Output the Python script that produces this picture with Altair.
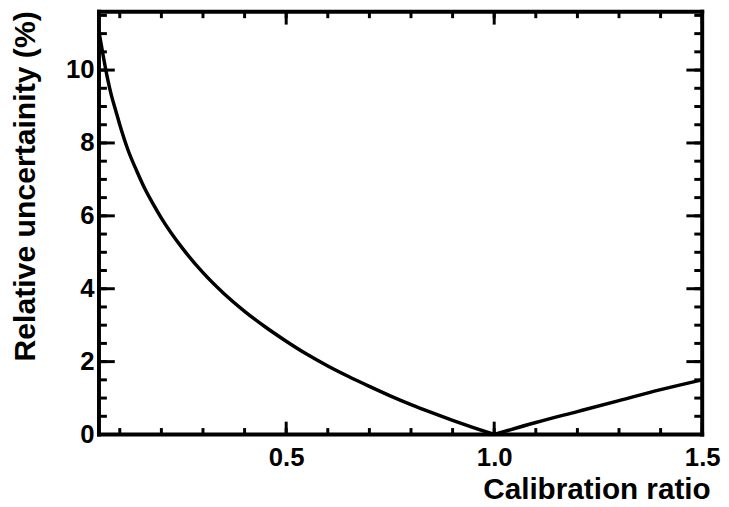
import altair as alt
import pandas as pd

# Curve values
left_x = [0.05, 0.06, 0.07, 0.08, 0.09, 0.10, 0.12, 0.14, 0.16, 0.18, 0.20, 0.25, 0.30,
          0.35, 0.40, 0.45, 0.50, 0.55, 0.60, 0.65, 0.70, 0.75, 0.80, 0.85, 0.90, 0.95, 1.0]
left_y = [11.05, 10.4, 9.8, 9.3, 8.9, 8.5, 7.8, 7.25, 6.75, 6.33, 5.94, 5.12, 4.44,
          3.87, 3.38, 2.95, 2.56, 2.2, 1.88, 1.59, 1.32, 1.06, 0.82, 0.60, 0.39, 0.19, 0.0]
right_x = [1.0, 1.1, 1.2, 1.3, 1.4, 1.5]
right_y = [0.0, 0.33, 0.63, 0.93, 1.23, 1.5]

# Axis ticks
x_major = [0.5, 1.0, 1.5]
x_minor = [0.1, 0.2, 0.3, 0.4, 0.5, 0.6, 0.7, 0.8, 0.9, 1.0, 1.1, 1.2, 1.3, 1.4, 1.5]
y_major = [0, 2, 4, 6, 8, 10]
y_minor = [0, 0.5, 1, 1.5, 2, 2.5, 3, 3.5, 4, 4.5, 5, 5.5, 6, 6.5, 7, 7.5, 8, 8.5,
           9, 9.5, 10, 10.5, 11, 11.5]

W, H = 610, 427.5
FONT = "Liberation Sans"

curve = pd.DataFrame({
    "x": left_x + right_x,
    "y": left_y + right_y,
    "seg": ["a"] * len(left_x) + ["b"] * len(right_x),
})

xs = alt.Scale(domain=[0.05, 1.5], nice=False, zero=False)
ys = alt.Scale(domain=[0, 11.6], nice=False, zero=False)

x_axis = alt.Axis(
    values=x_major, format=".1f", ticks=False, domain=False, grid=False,
    labelFont=FONT, labelFontSize=26, labelFontWeight="bold", labelColor="black",
    labelPadding=10, labelFlush=False, title="Calibration ratio", titleFont=FONT,
    titleFontSize=30, titleFontWeight="bold", titleColor="black", titleAlign="right",
    titleBaseline="alphabetic", titleX=W + 8, titleY=64.5)
y_axis = alt.Axis(
    values=y_major, format="d", ticks=False, domain=False, grid=False,
    labelFont=FONT, labelFontSize=26, labelFontWeight="bold", labelColor="black",
    labelPadding=5, labelFlush=False, title="Relative uncertainity (%)", titleFont=FONT,
    titleFontSize=30.5, titleFontWeight="bold", titleColor="black", titleAngle=-90,
    titleAlign="right", titleBaseline="alphabetic", titleX=-65, titleY=-1)

X = alt.X("x:Q", scale=xs, axis=x_axis, title="Calibration ratio")
Y = alt.Y("y:Q", scale=ys, axis=y_axis, title="Relative uncertainity (%)")

line = alt.Chart(curve).mark_line(color="black", strokeWidth=3.5, interpolate="monotone").encode(
    x=X, y=Y, detail="seg:N")

TW = 3

def xticks(vals, length):
    df = pd.DataFrame({"x": vals})
    bottom = alt.Chart(df).mark_rule(color="black", strokeWidth=TW).encode(
        x=X, y=alt.value(H), y2=alt.value(H - length))
    top = alt.Chart(df).mark_rule(color="black", strokeWidth=TW).encode(
        x=X, y=alt.value(0), y2=alt.value(length))
    return bottom + top

def yticks(vals, length):
    df = pd.DataFrame({"y": vals})
    left = alt.Chart(df).mark_rule(color="black", strokeWidth=TW).encode(
        y=Y, x=alt.value(0), x2=alt.value(length))
    right = alt.Chart(df).mark_rule(color="black", strokeWidth=TW).encode(
        y=Y, x=alt.value(W), x2=alt.value(W - length))
    return left + right

one = pd.DataFrame({"k": [0]})
FW = 4
FC = "black"
frame = (
    alt.Chart(one).mark_rule(color=FC, strokeWidth=FW, strokeCap="square").encode(
        x=alt.value(0), x2=alt.value(W), y=alt.value(0))
    + alt.Chart(one).mark_rule(color=FC, strokeWidth=FW, strokeCap="square").encode(
        x=alt.value(0), x2=alt.value(W), y=alt.value(H))
    + alt.Chart(one).mark_rule(color=FC, strokeWidth=FW, strokeCap="square").encode(
        x=alt.value(0), y=alt.value(0), y2=alt.value(H))
    + alt.Chart(one).mark_rule(color=FC, strokeWidth=FW, strokeCap="square").encode(
        x=alt.value(W), y=alt.value(0), y2=alt.value(H))
)

chart = alt.layer(
    line,
    xticks(x_minor, 6.5), xticks(x_major, 13),
    yticks(y_minor, 8), yticks(y_major, 16),
    frame,
).properties(
    width=W, height=H,
    autosize=alt.AutoSizeParams(type="none"),
    padding={"left": 92, "top": 1, "right": 19, "bottom": 70},
    background="white",
).configure_view(stroke=None)

chart.save("out.html", embed_options={"renderer": "svg", "actions": False})
